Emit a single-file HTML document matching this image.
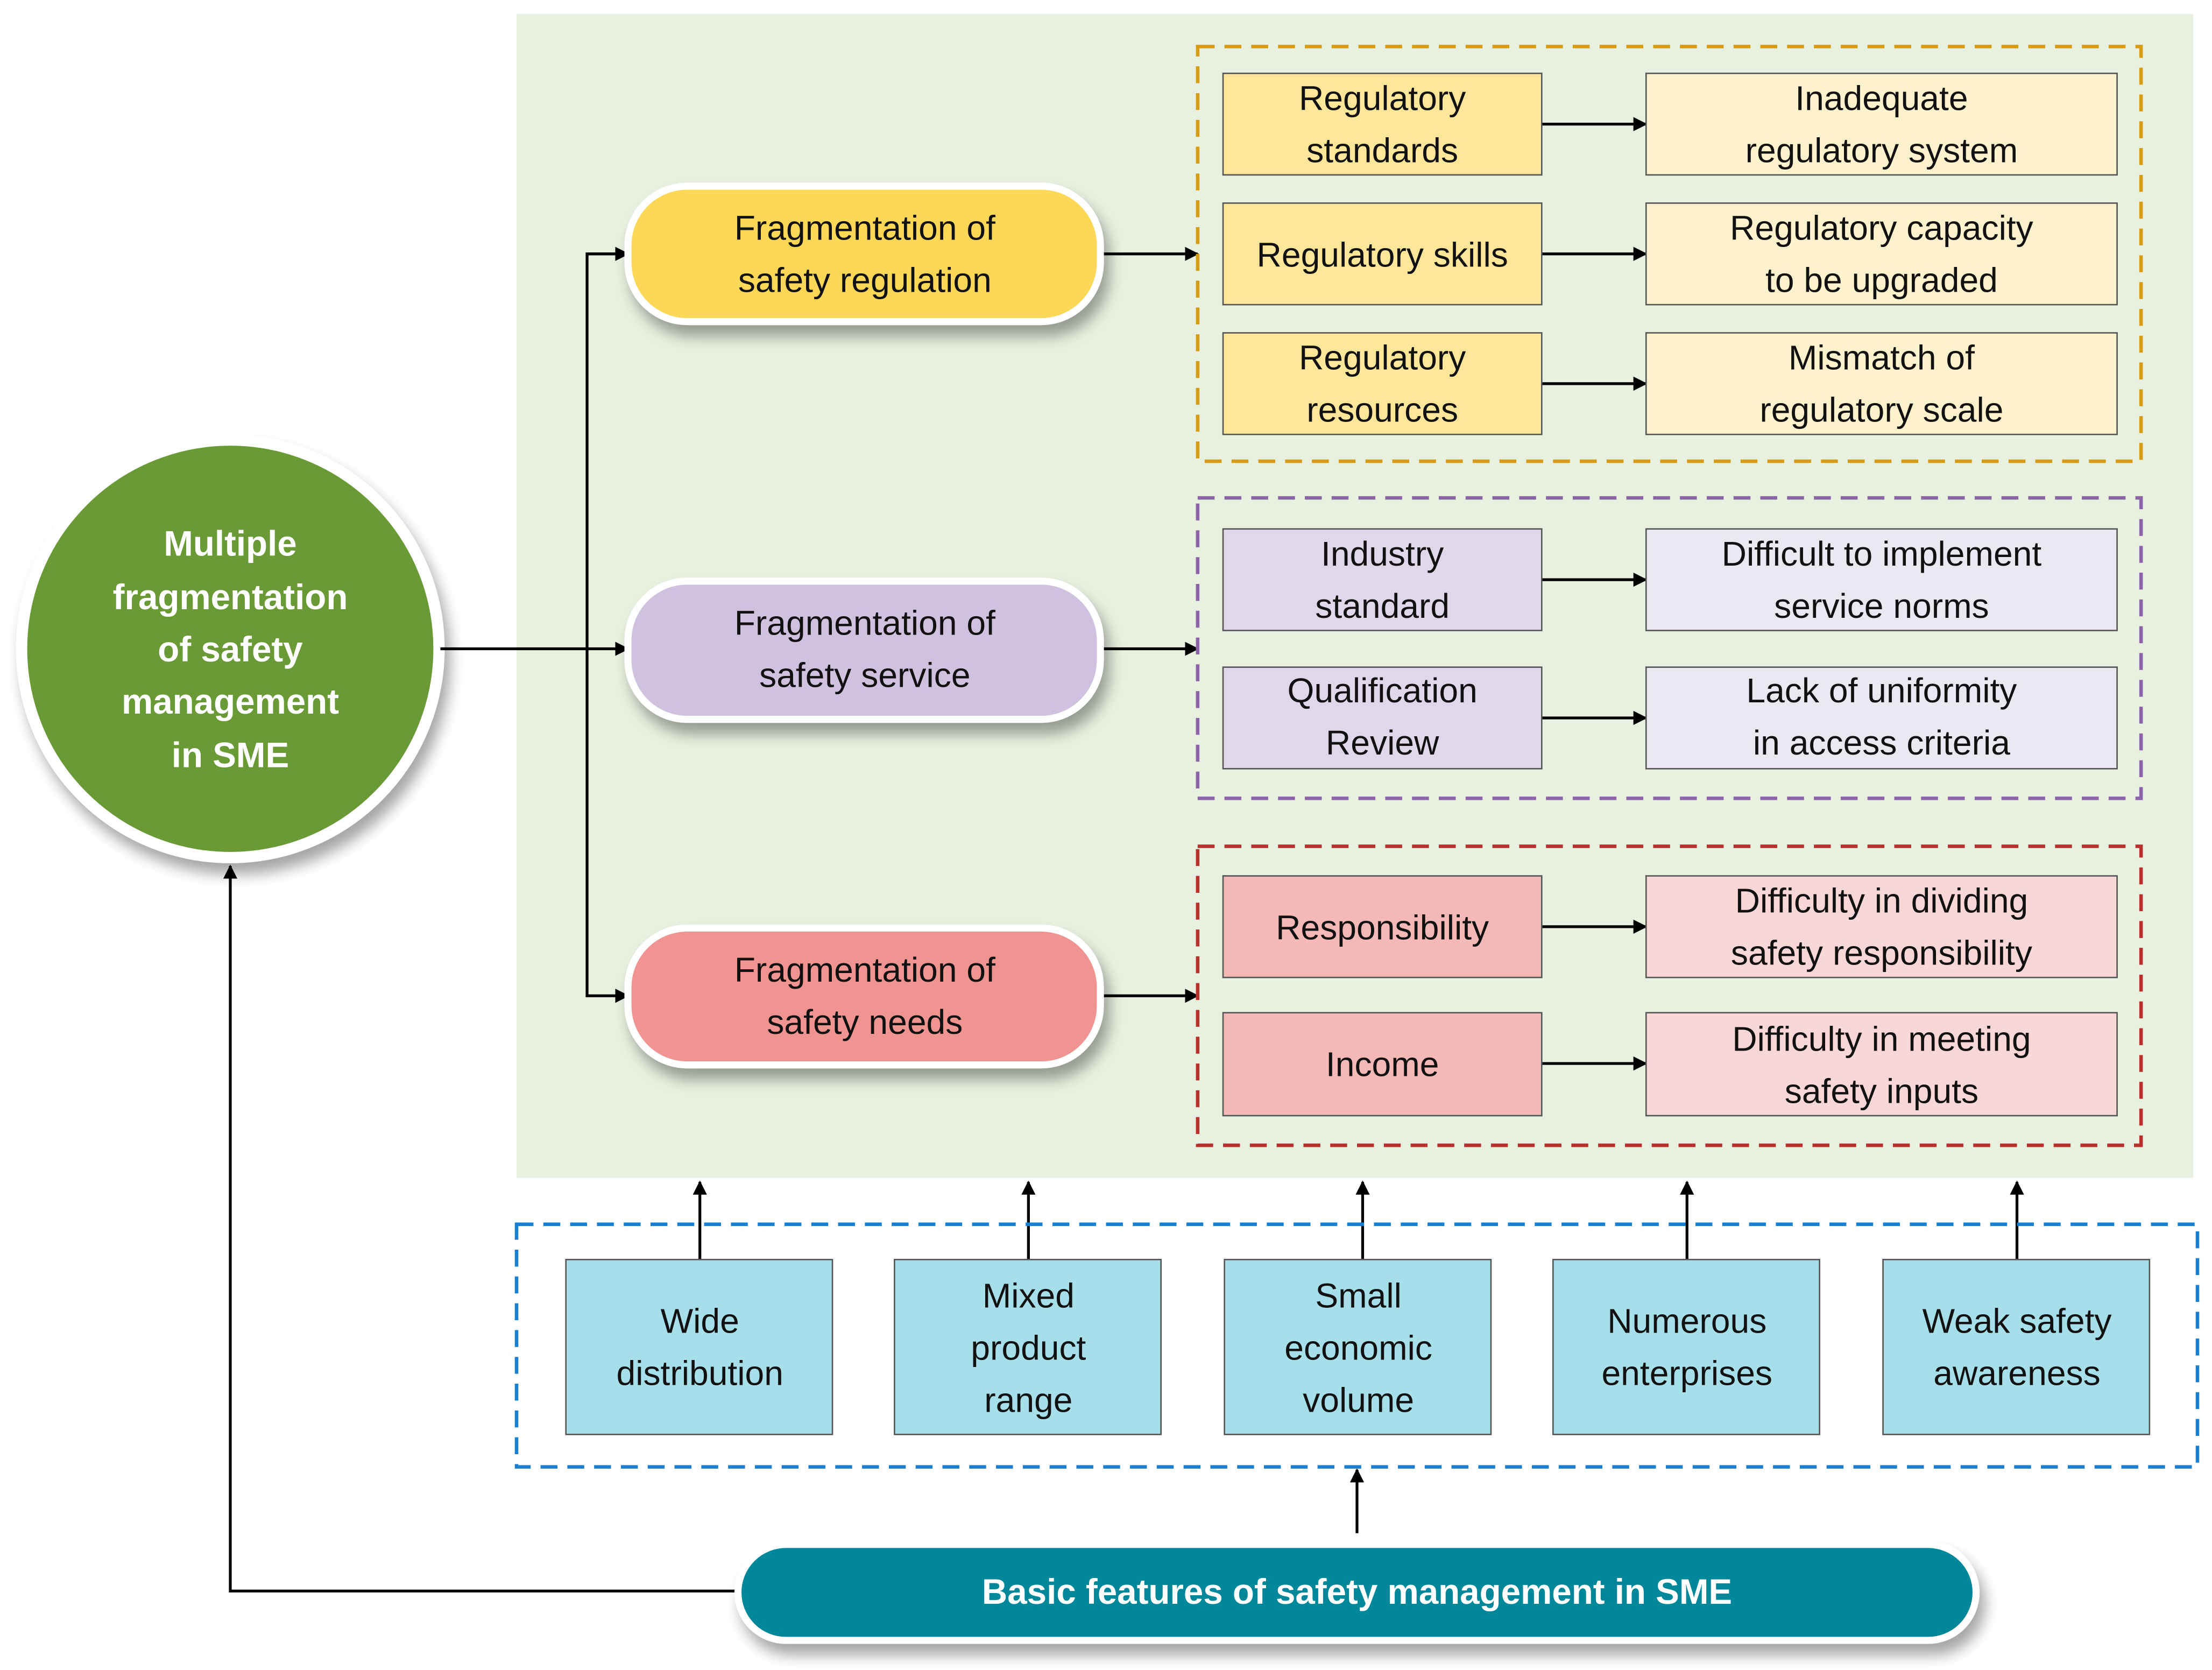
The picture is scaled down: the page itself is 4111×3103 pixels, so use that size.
<!DOCTYPE html>
<html><head><meta charset="utf-8"><style>html,body{margin:0;padding:0;background:#fff}svg{display:block}text{font-family:"Liberation Sans",sans-serif;font-size:24.5px;fill:#111;text-anchor:middle}</style></head>
<body>
<svg width="4111" height="3103" viewBox="0 0 1568 1184" xmlns="http://www.w3.org/2000/svg">
<defs>
<filter id="sh" x="-20%" y="-20%" width="140%" height="160%"><feDropShadow dx="4" dy="8" stdDeviation="5" flood-color="#000" flood-opacity="0.35"/></filter>
<marker id="ar" markerWidth="10" markerHeight="10" refX="9" refY="5" orient="auto" markerUnits="userSpaceOnUse"><path d="M0,0 L10,5 L0,10 z" fill="#000"/></marker>
</defs>
<rect x="366" y="10" width="1189" height="825" fill="#e8f0df"/>
<!-- circle -->
<circle cx="163" cy="460" r="148" fill="#6a9a36" stroke="#fff" stroke-width="8" filter="url(#sh)"/>
<g font-weight="bold" style="font-weight:bold">
<text x="163" y="394" fill="#fff" style="fill:#fff;font-weight:bold;font-size:25px">Multiple</text>
<text x="163" y="432" style="fill:#fff;font-weight:bold;font-size:25px">fragmentation</text>
<text x="163" y="469" style="fill:#fff;font-weight:bold;font-size:25px">of safety</text>
<text x="163" y="506" style="fill:#fff;font-weight:bold;font-size:25px">management</text>
<text x="163" y="544" style="fill:#fff;font-weight:bold;font-size:25px">in SME</text>
</g>
<!-- connectors -->
<g stroke="#000" stroke-width="2" fill="none">
<line x1="312" y1="460" x2="445" y2="460" marker-end="url(#ar)"/>
<polyline points="445,180 416,180 416,706 445,706" marker-end="url(#ar)"/>
<line x1="416" y1="180" x2="445" y2="180" marker-end="url(#ar)"/>
<line x1="780" y1="180" x2="849" y2="180" marker-end="url(#ar)"/>
<line x1="780" y1="460" x2="849" y2="460" marker-end="url(#ar)"/>
<line x1="780" y1="706" x2="849" y2="706" marker-end="url(#ar)"/>
<line x1="1093" y1="88" x2="1167" y2="88" marker-end="url(#ar)"/>
<line x1="1093" y1="180" x2="1167" y2="180" marker-end="url(#ar)"/>
<line x1="1093" y1="272" x2="1167" y2="272" marker-end="url(#ar)"/>
<line x1="1093" y1="411" x2="1167" y2="411" marker-end="url(#ar)"/>
<line x1="1093" y1="509" x2="1167" y2="509" marker-end="url(#ar)"/>
<line x1="1093" y1="657" x2="1167" y2="657" marker-end="url(#ar)"/>
<line x1="1093" y1="754" x2="1167" y2="754" marker-end="url(#ar)"/>
<line x1="496" y1="893" x2="496" y2="838" marker-end="url(#ar)"/>
<line x1="729" y1="893" x2="729" y2="838" marker-end="url(#ar)"/>
<line x1="966" y1="893" x2="966" y2="838" marker-end="url(#ar)"/>
<line x1="1196" y1="893" x2="1196" y2="838" marker-end="url(#ar)"/>
<line x1="1430" y1="893" x2="1430" y2="838" marker-end="url(#ar)"/>
<line x1="962" y1="1087" x2="962" y2="1042" marker-end="url(#ar)"/>
<polyline points="522,1128 163,1128 163,614" marker-end="url(#ar)"/>
</g>
<!-- pills -->
<rect x="445" y="132" width="335" height="96" rx="42" fill="#fdd757" stroke="#fff" stroke-width="5" filter="url(#sh)"/>
<text x="613" y="170">Fragmentation of</text><text x="613" y="207">safety regulation</text>
<rect x="445" y="412" width="335" height="98" rx="42" fill="#d0c2de" stroke="#fff" stroke-width="5" filter="url(#sh)"/>
<text x="613" y="450">Fragmentation of</text><text x="613" y="487">safety service</text>
<rect x="445" y="658" width="335" height="97" rx="42" fill="#ef9490" stroke="#fff" stroke-width="5" filter="url(#sh)"/>
<text x="613" y="696">Fragmentation of</text><text x="613" y="733">safety needs</text>
<!-- dashed groups -->
<rect x="849" y="33" width="669" height="294" fill="none" stroke="#d69c16" stroke-width="2.5" stroke-dasharray="12,7"/>
<rect x="849" y="353" width="669" height="213" fill="none" stroke="#8e64a8" stroke-width="2.5" stroke-dasharray="12,7"/>
<rect x="849" y="600" width="669" height="212" fill="none" stroke="#b8302c" stroke-width="2.5" stroke-dasharray="12,7"/>
<rect x="366" y="868" width="1192" height="172" fill="none" stroke="#1a7fd0" stroke-width="2.5" stroke-dasharray="12,7"/>
<!-- small boxes -->
<g stroke="#555" stroke-width="1">
<rect x="867" y="52" width="226" height="72" fill="#ffe699"/><rect x="1167" y="52" width="334" height="72" fill="#fff2cc"/>
<rect x="867" y="144" width="226" height="72" fill="#ffe699"/><rect x="1167" y="144" width="334" height="72" fill="#fff2cc"/>
<rect x="867" y="236" width="226" height="72" fill="#ffe699"/><rect x="1167" y="236" width="334" height="72" fill="#fff2cc"/>
<rect x="867" y="375" width="226" height="72" fill="#e0d7ea"/><rect x="1167" y="375" width="334" height="72" fill="#ece8f2"/>
<rect x="867" y="473" width="226" height="72" fill="#e0d7ea"/><rect x="1167" y="473" width="334" height="72" fill="#ece8f2"/>
<rect x="867" y="621" width="226" height="72" fill="#f4b8b6"/><rect x="1167" y="621" width="334" height="72" fill="#f8d7d6"/>
<rect x="867" y="718" width="226" height="73" fill="#f4b8b6"/><rect x="1167" y="718" width="334" height="73" fill="#f8d7d6"/>
<rect x="401" y="893" width="189" height="124" fill="#a6dfe9"/>
<rect x="634" y="893" width="189" height="124" fill="#a6dfe9"/>
<rect x="868" y="893" width="189" height="124" fill="#a6dfe9"/>
<rect x="1101" y="893" width="189" height="124" fill="#a6dfe9"/>
<rect x="1335" y="893" width="189" height="124" fill="#a6dfe9"/>
</g>
<text x="980" y="78">Regulatory</text><text x="980" y="115">standards</text>
<text x="1334" y="78">Inadequate</text><text x="1334" y="115">regulatory system</text>
<text x="980" y="189">Regulatory skills</text>
<text x="1334" y="170">Regulatory capacity</text><text x="1334" y="207">to be upgraded</text>
<text x="980" y="262">Regulatory</text><text x="980" y="299">resources</text>
<text x="1334" y="262">Mismatch of</text><text x="1334" y="299">regulatory scale</text>
<text x="980" y="401">Industry</text><text x="980" y="438">standard</text>
<text x="1334" y="401">Difficult to implement</text><text x="1334" y="438">service norms</text>
<text x="980" y="498">Qualification</text><text x="980" y="535">Review</text>
<text x="1334" y="498">Lack of uniformity</text><text x="1334" y="535">in access criteria</text>
<text x="980" y="666">Responsibility</text>
<text x="1334" y="647">Difficulty in dividing</text><text x="1334" y="684">safety responsibility</text>
<text x="980" y="763">Income</text>
<text x="1334" y="745">Difficulty in meeting</text><text x="1334" y="782">safety inputs</text>
<text x="496" y="945">Wide</text><text x="496" y="982">distribution</text>
<text x="729" y="927">Mixed</text><text x="729" y="964">product</text><text x="729" y="1001">range</text>
<text x="963" y="927">Small</text><text x="963" y="964">economic</text><text x="963" y="1001">volume</text>
<text x="1196" y="945">Numerous</text><text x="1196" y="982">enterprises</text>
<text x="1430" y="945">Weak safety</text><text x="1430" y="982">awareness</text>
<!-- bottom pill -->
<rect x="523" y="1095" width="878" height="68" rx="34" fill="#00879a" stroke="#fff" stroke-width="5" filter="url(#sh)"/>
<text x="962" y="1137" style="fill:#fff;font-weight:bold;font-size:25px">Basic features of safety management in SME</text>
</svg>
</body></html>
